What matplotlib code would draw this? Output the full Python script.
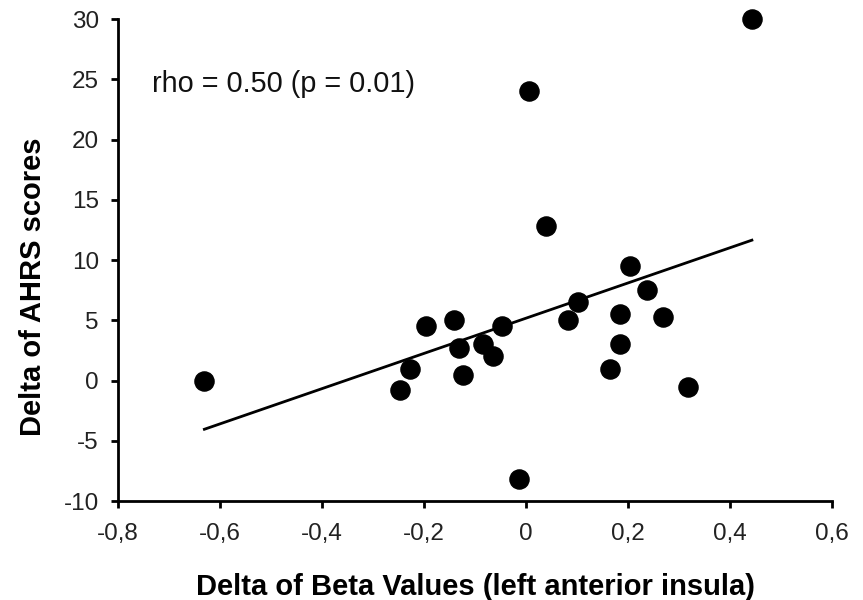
import numpy as np
import matplotlib
matplotlib.use('Agg')
import matplotlib.pyplot as plt
from matplotlib.ticker import FuncFormatter

plt.rcParams['font.family'] = ['Liberation Sans', 'DejaVu Sans']
plt.rcParams['axes.unicode_minus'] = False

# delta of beta values (left anterior insula) vs delta of AHRS scores
beta_delta = [-0.631, -0.248, -0.227, -0.197, -0.142, -0.131, -0.124, -0.085,
              -0.064, -0.048, -0.014, 0.005, 0.039, 0.083, 0.101, 0.165,
              0.184, 0.184, 0.203, 0.237, 0.269, 0.318, 0.443]
ahrs_delta = [0.0, -0.8, 1.0, 4.5, 5.0, 2.7, 0.5, 3.0,
              2.0, 4.5, -8.2, 24.0, 12.8, 5.0, 6.5, 1.0,
              5.5, 3.0, 9.5, 7.5, 5.3, -0.5, 30.0]

x_ticks = [-0.8, -0.6, -0.4, -0.2, 0, 0.2, 0.4, 0.6]
y_ticks = [-10, -5, 0, 5, 10, 15, 20, 25, 30]

x = np.array(beta_delta)
y = np.array(ahrs_delta)
slope, intercept = np.polyfit(x, y, 1)
xl = np.array([x.min(), x.max()])

fig = plt.figure(figsize=(8.63, 6), dpi=100)
ax = fig.add_axes([0.137, 0.165, 0.827, 0.803])

ax.scatter(x, y, s=190, color='black', zorder=3, clip_on=False)
ax.plot(xl, slope * xl + intercept, color='black', lw=2)

ax.set_xlim(-0.8, 0.6)
ax.set_ylim(-10, 30)
ax.set_xticks(x_ticks)
ax.set_yticks(y_ticks)
ax.xaxis.set_major_formatter(FuncFormatter(lambda v, p: ('%g' % round(v, 1)).replace('.', ',')))

for s in ['top', 'right']:
    ax.spines[s].set_visible(False)
for s in ['left', 'bottom']:
    ax.spines[s].set_linewidth(2)
ax.tick_params(direction='out', length=5, width=2, labelsize=17.5, colors='black')
ax.tick_params(axis='x', pad=11)
ax.tick_params(axis='y', pad=9)
for lbl in ax.get_xticklabels() + ax.get_yticklabels():
    lbl.set_color('#222222')

ax.set_xlabel('Delta of Beta Values (left anterior insula)', fontsize=21, fontweight='bold', labelpad=20)
ax.set_ylabel('Delta of AHRS scores', fontsize=21, fontweight='bold', labelpad=12, y=0.445)

ax.text(0.0476, 0.849, 'rho = 0.50 (p = 0.01)', transform=ax.transAxes, fontsize=20.8,
        color='#111111', va='baseline')

fig.savefig('out.png', dpi=100)
